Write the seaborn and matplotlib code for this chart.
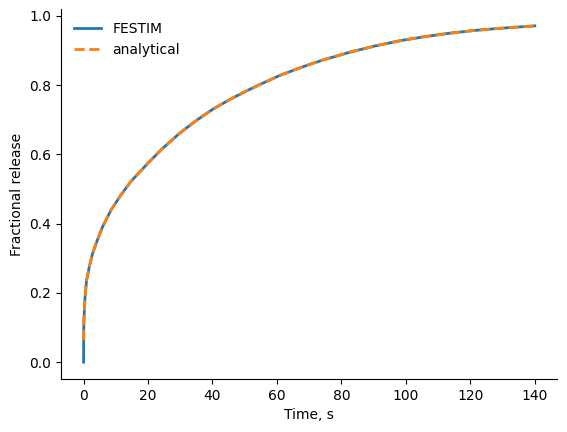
import matplotlib
matplotlib.use("Agg")
import matplotlib.pyplot as plt
import seaborn as sns

# values
time_festim = [0.0, 0.03, 0.1, 0.4, 0.9, 1.8, 2.8, 4.3, 5.9, 8.5, 11.6, 14.7,
               20.0, 24.6, 29.8, 35.0, 40.2, 45.3, 50.5, 55.7, 60.9, 66.3, 70.2,
               74.8, 82.6, 90.4, 98.1, 105.9, 113.7, 121.4, 129.2, 140.0]
release_festim = [0.0, 0.064, 0.12, 0.18, 0.235, 0.276, 0.314, 0.353, 0.391, 0.439, 0.483, 0.522,
                  0.575, 0.618, 0.661, 0.698, 0.731, 0.758, 0.783, 0.806, 0.828, 0.847, 0.860,
                  0.874, 0.895, 0.913, 0.928, 0.940, 0.950, 0.958, 0.964, 0.971]

time_analytical = [0.03, 0.1, 0.4, 0.9, 1.8, 2.8, 4.3, 5.9, 8.5, 11.6, 14.7,
                   20.0, 24.6, 29.8, 35.0, 40.2, 45.3, 50.5, 55.7, 60.9, 66.3, 70.2,
                   74.8, 82.6, 90.4, 98.1, 105.9, 113.7, 121.4, 129.2, 140.0]
release_analytical = [0.064, 0.12, 0.18, 0.235, 0.276, 0.314, 0.353, 0.391, 0.439, 0.483, 0.522,
                      0.575, 0.618, 0.661, 0.698, 0.731, 0.758, 0.783, 0.806, 0.828, 0.847, 0.860,
                      0.874, 0.895, 0.913, 0.928, 0.940, 0.950, 0.958, 0.964, 0.971]

fig = plt.figure(figsize=(5.67, 4.32), dpi=100)
ax = fig.add_axes([0.1076, 0.1227, 0.983 - 0.1076, 0.979 - 0.1227])

sns.lineplot(x=time_festim, y=release_festim, ax=ax, color="tab:blue",
             linewidth=2, label="FESTIM", sort=False, estimator=None)
sns.lineplot(x=time_analytical, y=release_analytical, ax=ax, color="tab:orange",
             linewidth=2, linestyle="--", label="analytical", sort=False, estimator=None)

ax.set_xlabel("Time, s")
ax.set_ylabel("Fractional release")
ax.legend(frameon=False, loc="upper left")
sns.despine(ax=ax)

fig.savefig("out.png", dpi=100)
